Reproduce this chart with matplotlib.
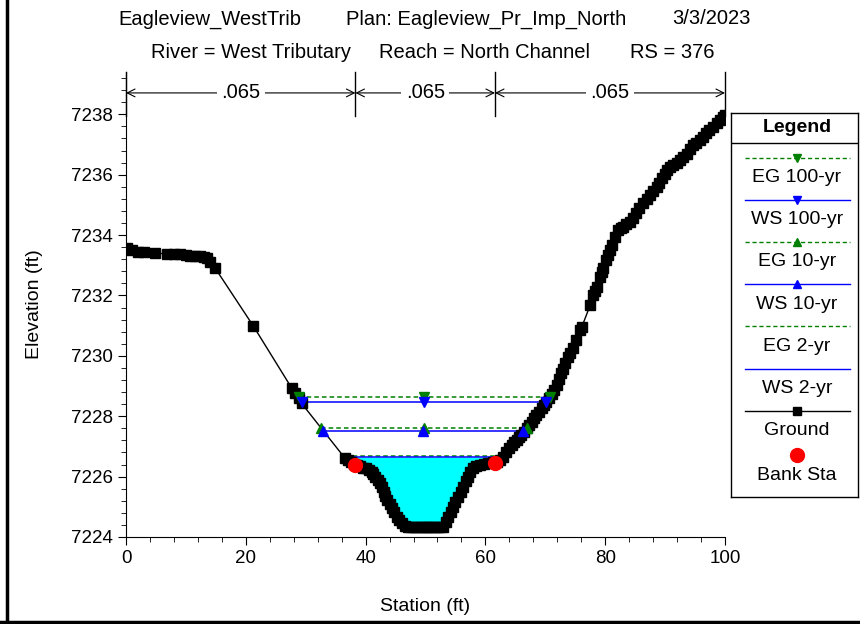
import matplotlib
matplotlib.use("Agg")
import matplotlib.pyplot as plt
from matplotlib.lines import Line2D
from matplotlib.ticker import MultipleLocator
import numpy as np

plt.rcParams['font.family'] = ['Liberation Sans', 'DejaVu Sans']

# Ground profile (station ft, elevation ft)
ground_sta = [0.1, 1.0, 2.0, 3.0, 4.8, 6.8, 8.0, 9.0, 10.0, 10.7, 11.5, 12.4,
              13.0, 13.5, 14.0, 14.9, 21.25,
              27.7, 28.2, 28.8, 29.3, 36.6, 37.0, 37.5, 38.0, 38.5, 39.0,
              39.5, 40.0, 40.5, 41.0, 41.3, 41.6, 42.0, 42.4, 42.7, 43.0,
              43.3, 43.6, 44.0, 44.4, 44.8, 45.2, 45.6, 46.0, 46.5, 47.0,
              47.5, 48.0, 48.5, 49.0, 49.5, 50.0, 50.5, 51.0, 51.5, 52.0,
              52.5, 53.0, 53.4, 53.8, 54.2, 54.6, 55.0, 55.5, 55.9, 56.3,
              56.7, 57.1, 57.5, 58.0, 58.5, 59.1, 59.8, 60.5, 61.2, 61.9,
              62.5, 63.0, 63.5, 64.0, 64.4, 64.8, 65.2, 65.6, 66.0, 66.4,
              66.9, 67.3, 67.7, 68.1, 68.5, 68.9, 69.4, 69.8, 70.2, 70.6,
              71.1, 71.5, 71.9, 72.3, 72.7, 73.0, 73.3, 73.8, 74.2, 74.7,
              75.2, 75.8, 76.1, 77.5, 78.0, 78.3, 78.6, 79.1, 79.4, 79.7,
              80.2, 80.5, 80.8, 81.1, 81.6, 82.2, 82.6, 83.0, 83.5, 84.1,
              84.6, 85.2, 85.7, 86.3, 86.9, 87.5, 88.0, 88.6, 89.0, 89.4,
              89.9, 90.3, 90.8, 91.4, 92.0, 92.5, 93.0, 93.6, 94.1, 94.7,
              95.2, 95.8, 96.3, 96.9, 97.4, 98.0, 98.6, 99.2, 99.6, 100.0]
ground_elev = [7233.56, 7233.50, 7233.45, 7233.43, 7233.41, 7233.37, 7233.37,
               7233.36, 7233.33, 7233.31, 7233.31, 7233.30, 7233.27, 7233.23,
               7233.12, 7232.90, 7230.99,
               7228.92, 7228.76, 7228.59, 7228.43, 7226.60, 7226.55, 7226.48,
               7226.43, 7226.38, 7226.34, 7226.30, 7226.27, 7226.22, 7226.15,
               7226.08, 7226.00, 7225.90, 7225.78, 7225.64, 7225.50, 7225.36,
               7225.22, 7225.08, 7224.95, 7224.82, 7224.67, 7224.55, 7224.45,
               7224.37, 7224.33, 7224.32, 7224.32, 7224.32, 7224.32, 7224.32,
               7224.32, 7224.32, 7224.32, 7224.32, 7224.32, 7224.33, 7224.34,
               7224.50, 7224.67, 7224.84, 7225.00, 7225.16, 7225.33, 7225.50,
               7225.67, 7225.84, 7226.00, 7226.14, 7226.27, 7226.34, 7226.38,
               7226.41, 7226.44, 7226.47, 7226.49, 7226.56, 7226.66, 7226.82,
               7226.95, 7227.05, 7227.13, 7227.21, 7227.30, 7227.38, 7227.48,
               7227.60, 7227.71, 7227.82, 7227.93, 7228.04, 7228.15, 7228.26,
               7228.37, 7228.48, 7228.60, 7228.72, 7228.88, 7229.05, 7229.24,
               7229.42, 7229.58, 7229.75, 7229.97, 7230.10, 7230.25, 7230.52,
               7230.85, 7230.96, 7231.68, 7232.01, 7232.15, 7232.29, 7232.62,
               7232.76, 7232.90, 7233.17, 7233.34, 7233.50, 7233.67, 7233.94,
               7234.17, 7234.22, 7234.27, 7234.35, 7234.44, 7234.58, 7234.72,
               7234.88, 7235.05, 7235.18, 7235.32, 7235.46, 7235.60, 7235.74,
               7235.88, 7236.02, 7236.15, 7236.24, 7236.32, 7236.40, 7236.48,
               7236.59, 7236.70, 7236.84, 7236.98, 7237.06, 7237.15, 7237.26,
               7237.37, 7237.48, 7237.59, 7237.70, 7237.81, 7237.90, 7237.97]

# Bank stations
bank_sta = [38.3, 61.6]
bank_elev = [7226.40, 7226.44]

# Water surface / energy grade profiles: (left sta, right sta), elevation
ws_2_sta = [36.6, 63.0]
ws_2 = 7226.64
eg_2_sta = [36.6, 63.0]
eg_2 = 7226.68
ws_10_sta = [32.9, 66.3]
ws_10 = 7227.52
eg_10_sta = [32.6, 66.9]
eg_10 = 7227.62
ws_100_sta = [29.3, 70.2]
ws_100 = 7228.46
eg_100_sta = [28.8, 70.8]
eg_100 = 7228.65

# Manning's n regions
n_bounds = [0, 38.3, 61.6, 100]
n_values = ['.065', '.065', '.065']

FS = 13.5
TFS = 14.5

fig = plt.figure(figsize=(8.6, 6.24), dpi=100)
ax = fig.add_axes([126 / 860, 1 - 537 / 624, 599 / 860, 465 / 624])

sta = np.array(ground_sta)
elev = np.array(ground_elev)

# water fill for the 2-yr event
fine = np.linspace(ws_2_sta[0], ws_2_sta[1], 400)
fine_g = np.interp(fine, sta, elev)
ax.fill_between(fine, np.minimum(fine_g, ws_2), ws_2, color='#00ffff', lw=0, zorder=1)


def wsline(x, y, color, ls, marker):
    mid = (x[0] + x[1]) / 2
    ax.plot(x, [y, y], color=color, ls=ls, lw=1.1, zorder=3)
    if marker:
        ax.plot([x[0], mid, x[1]], [y, y, y], ls='none', marker=marker,
                color=color, ms=7, zorder=6)


wsline(eg_100_sta, eg_100, '#008000', (0, (3, 2)), 'v')
wsline(ws_100_sta, ws_100, '#0000ff', '-', 'v')
wsline(eg_10_sta, eg_10, '#008000', (0, (3, 2)), '^')
wsline(ws_10_sta, ws_10, '#0000ff', '-', '^')
wsline(eg_2_sta, eg_2, '#008000', (0, (3, 2)), None)
wsline(ws_2_sta, ws_2, '#0000ff', '-', None)

ax.plot(sta, elev, color='black', lw=1, marker='s', ms=7, zorder=5)
ax.plot(bank_sta, bank_elev, ls='none', marker='o', color='#ff0000', ms=10, zorder=7)

ax.set_xlim(0, 100)
ax.set_ylim(7224, 7239.4)
ax.set_yticks(np.arange(7224, 7239, 2))
ax.set_xticks(np.arange(0, 101, 20))
ax.xaxis.set_minor_locator(MultipleLocator(4))
ax.yaxis.set_minor_locator(MultipleLocator(0.4))
ax.spines['top'].set_visible(False)
ax.spines['right'].set_visible(False)
ax.tick_params(which='major', length=6, labelsize=FS)
ax.tick_params(which='minor', length=3.5)
ax.set_xlabel('Station (ft)', fontsize=14, labelpad=22)
ax.set_ylabel('Elevation (ft)', fontsize=14, labelpad=20)

# n value annotation
xt = ax.get_xaxis_transform()
for b in n_bounds:
    ax.plot([b, b], [0.905, 1.0], color='black', lw=1, transform=xt, clip_on=False)
for i, n in enumerate(n_values):
    ax.annotate('', xy=(n_bounds[i], 0.955), xytext=(n_bounds[i + 1], 0.955),
                xycoords=xt, textcoords=xt,
                arrowprops=dict(arrowstyle='<->', lw=0.8, color='black',
                                shrinkA=0, shrinkB=0, mutation_scale=14))
    ax.text((n_bounds[i] + n_bounds[i + 1]) / 2, 0.955, n, transform=xt,
            ha='center', va='center', fontsize=TFS,
            bbox=dict(facecolor='white', edgecolor='none', pad=3))

# titles
for s, x in [('Eagleview_WestTrib', 118), ('Plan: Eagleview_Pr_Imp_North', 346),
             ('3/3/2023', 672)]:
    fig.text(x / 860, 1 - 19 / 624, s, ha='left', va='center', fontsize=TFS)
for s, x in [('River = West Tributary', 151), ('Reach = North Channel', 379),
             ('RS = 376', 630)]:
    fig.text(x / 860, 1 - 53 / 624, s, ha='left', va='center', fontsize=TFS)

# legend box
lax = fig.add_axes([731 / 860, 1 - 497 / 624, 127 / 860, 384 / 624])
lax.set_xlim(731, 858)
lax.set_ylim(497, 113)
lax.set_xticks([])
lax.set_yticks([])
for sp in lax.spines.values():
    sp.set_linewidth(1)
lax.axhline(143, color='black', lw=1)
lax.text(797, 128, 'Legend', ha='center', va='center', fontsize=14, fontweight='bold')
leg_items = [
    ('EG 100-yr', '#008000', (0, (3, 2)), 'v'),
    ('WS 100-yr', '#0000ff', '-', 'v'),
    ('EG 10-yr', '#008000', (0, (3, 2)), '^'),
    ('WS 10-yr', '#0000ff', '-', '^'),
    ('EG 2-yr', '#008000', (0, (3, 2)), None),
    ('WS 2-yr', '#0000ff', '-', None),
    ('Ground', 'black', '-', 's'),
]
for i, (lab, c, ls, m) in enumerate(leg_items):
    y0 = 157.5 + i * 42.2
    lax.plot([745, 850], [y0, y0], color=c, ls=ls, lw=1)
    if m:
        lax.plot([797], [y0], marker=m, color=c, ms=6)
    lax.text(797, y0 + 20, lab, ha='center', va='center', fontsize=14)
lax.plot([797], [455], marker='o', color='#ff0000', ms=10, ls='none')
lax.text(797, 475, 'Bank Sta', ha='center', va='center', fontsize=14)

# outer frame (left and bottom)
fig.add_artist(Line2D([7 / 860, 7 / 860], [0, 1], color='black', lw=2.5))
fig.add_artist(Line2D([0, 1], [2 / 624, 2 / 624], color='black', lw=2.5))

fig.savefig('out.png', dpi=100)
